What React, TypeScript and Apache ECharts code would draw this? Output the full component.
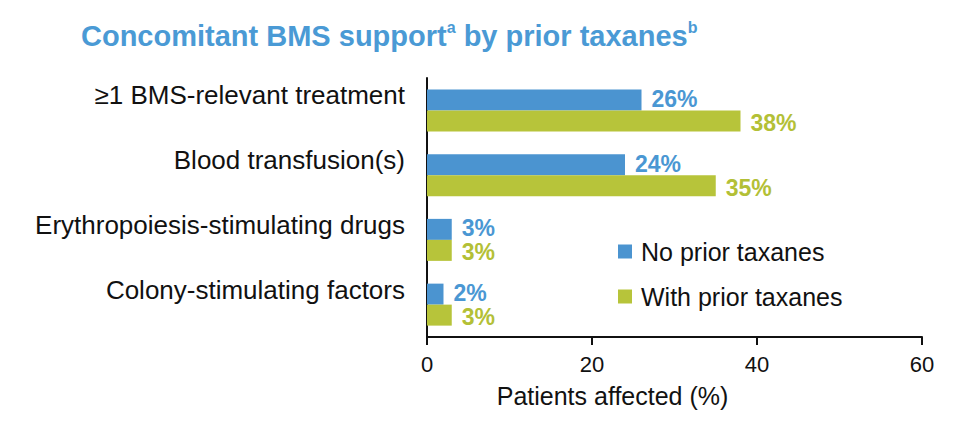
import React, { useEffect, useRef } from "react";
import * as echarts from "echarts";

const categories = [
  "≥1 BMS-relevant treatment",
  "Blood transfusion(s)",
  "Erythropoiesis-stimulating drugs",
  "Colony-stimulating factors",
];
const noPriorTaxanes = [26, 24, 3, 2];
const withPriorTaxanes = [38, 35, 3, 3];
const seriesNames = ["No prior taxanes", "With prior taxanes"];
const xTicks = { min: 0, max: 60, interval: 20 };

const BLUE = "#4b94d0";
const GREEN = "#b7c43a";
const BLUE_TEXT = "#4a97d3";
const GREEN_TEXT = "#b3c036";
const FONT = "'Liberation Sans', Arial, sans-serif";

export default function App() {
  const ref = useRef<HTMLDivElement>(null);

  useEffect(() => {
    if (!ref.current) return;
    const chart = echarts.init(ref.current, undefined, { renderer: "svg" });

    const barLabel = (color: string, dy: number) => ({
      show: true,
      position: "right",
      distance: 10,
      offset: [0, dy],
      formatter: "{c}%",
      color,
      fontFamily: FONT,
      fontWeight: "bold",
      fontSize: 23,
      lineHeight: 18,
    });

    chart.setOption({
      animation: false,
      title: {
        left: 68,
        top: 6,
        padding: 5,
        text: "{m|Concomitant BMS support}{s|a}{m| by prior taxanes}{s|b}",
        textStyle: {
          rich: {
            m: {
              fontFamily: FONT,
              fontWeight: "bold",
              fontSize: 29,
              lineHeight: 34,
              color: "#4a9ad5",
            },
            s: {
              fontFamily: FONT,
              fontWeight: "bold",
              fontSize: 16,
              lineHeight: 16,
              verticalAlign: "top",
              color: "#4a9ad5",
            },
          },
        },
      },
      legend: {
        orient: "vertical",
        left: 605,
        top: 226,
        itemWidth: 14,
        itemHeight: 14,
        itemGap: 20,
        icon: "rect",
        textStyle: {
          fontFamily: FONT,
          fontSize: 25,
          color: "#111",
          padding: [0, 0, 0, 4],
        },
        data: seriesNames,
      },
      grid: { left: 419, right: 36, top: 70, bottom: 83, containLabel: false },
      xAxis: {
        type: "value",
        min: xTicks.min,
        max: xTicks.max,
        interval: xTicks.interval,
        splitLine: { show: false },
        axisLine: { show: true, lineStyle: { color: "#111", width: 2 } },
        axisTick: { show: true, length: 8, lineStyle: { color: "#111", width: 2 } },
        axisLabel: { fontFamily: FONT, fontSize: 22, color: "#111", margin: 16 },
        name: "Patients affected (%)",
        nameLocation: "middle",
        nameGap: 46,
        nameTextStyle: {
          fontFamily: FONT,
          fontSize: 25,
          color: "#111",
          padding: [0, 124, 0, 0],
        },
      },
      yAxis: {
        type: "category",
        inverse: true,
        data: categories,
        axisLine: { show: true, lineStyle: { color: "#111", width: 2 } },
        axisTick: { show: false },
        axisLabel: {
          fontFamily: FONT,
          fontSize: 26,
          color: "#111",
          margin: 22,
          verticalAlign: "bottom",
          lineHeight: 30,
          padding: [0, 0, 0, 0],
        },
      },
      series: [
        {
          name: seriesNames[0],
          type: "bar",
          data: noPriorTaxanes,
          barWidth: 21,
          barGap: "0%",
          itemStyle: { color: BLUE },
          label: barLabel(BLUE_TEXT, -1),
        },
        {
          name: seriesNames[1],
          type: "bar",
          data: withPriorTaxanes,
          barWidth: 21,
          barGap: "0%",
          itemStyle: { color: GREEN },
          label: barLabel(GREEN_TEXT, 2),
        },
      ],
    });

    return () => chart.dispose();
  }, []);

  return <div ref={ref} style={{ width: 950, height: 412 }} />;
}
